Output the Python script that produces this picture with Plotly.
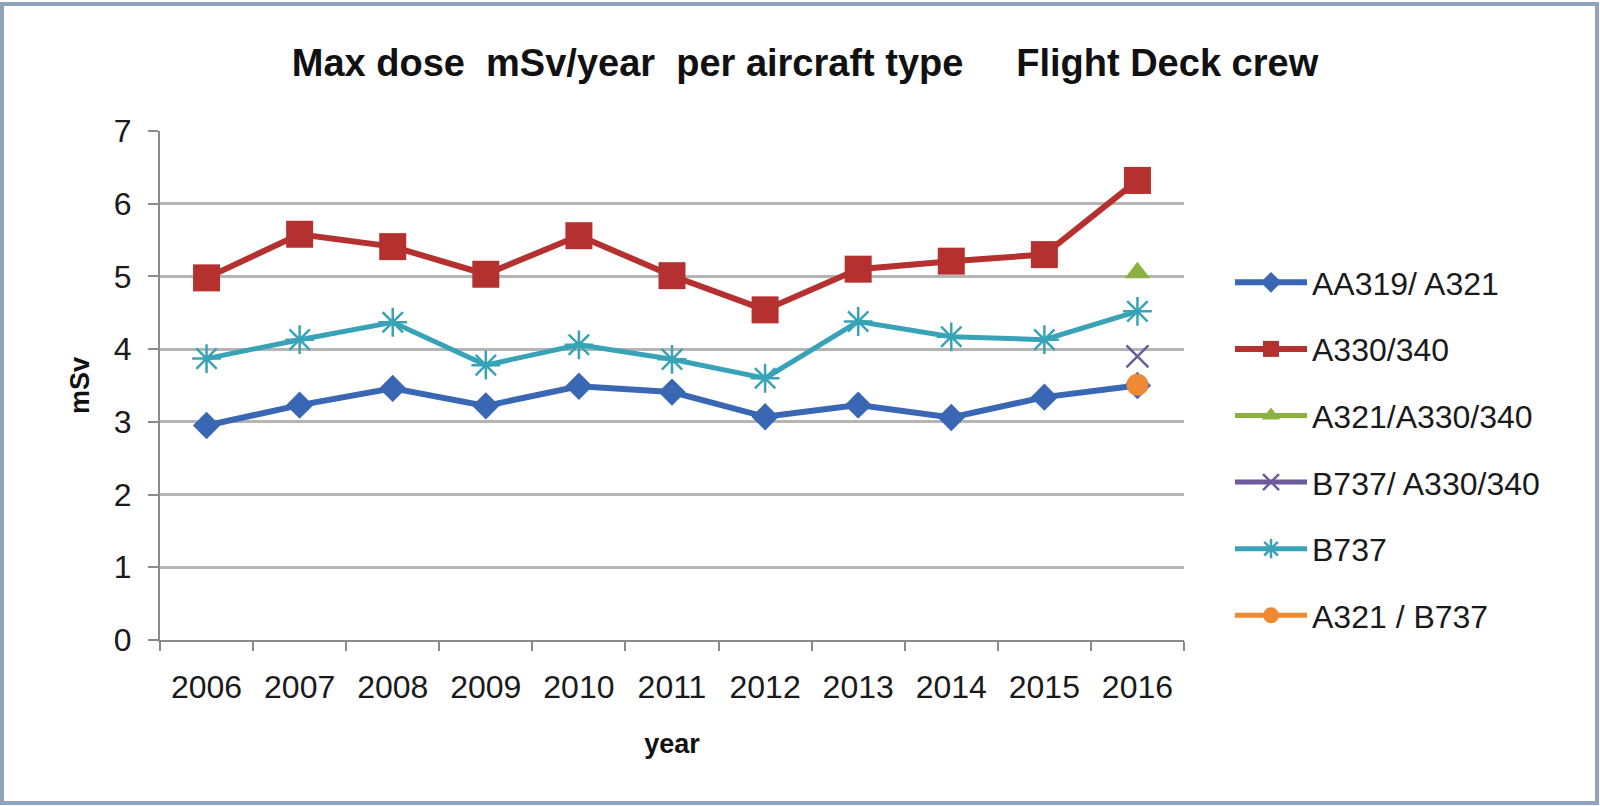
import plotly.graph_objects as go

# ---- data ----
years = ["2006", "2007", "2008", "2009", "2010", "2011", "2012", "2013", "2014", "2015", "2016"]
aa319_a321 = [2.95, 3.23, 3.46, 3.22, 3.49, 3.41, 3.07, 3.23, 3.06, 3.34, 3.50]
a330_340 = [4.98, 5.58, 5.41, 5.03, 5.56, 5.01, 4.54, 5.10, 5.21, 5.30, 6.32]
a321_a330_340 = [None, None, None, None, None, None, None, None, None, None, 5.05]
b737_a330_340 = [None, None, None, None, None, None, None, None, None, None, 3.90]
b737 = [3.87, 4.13, 4.37, 3.78, 4.06, 3.86, 3.60, 4.38, 4.17, 4.13, 4.52]
a321_b737 = [None, None, None, None, None, None, None, None, None, None, 3.51]

series_names = ["AA319/ A321", "A330/340", "A321/A330/340", "B737/ A330/340", "B737", "A321 / B737"]
series_values = [aa319_a321, a330_340, a321_a330_340, b737_a330_340, b737, a321_b737]
colors = ["#3A67B4", "#B5312F", "#8DB043", "#6B5A9C", "#38A3B7", "#EF8A34"]
symbols = ["diamond", "square", "triangle-up", "x-thin-open", "asterisk-open", "circle"]
msizes = [21, 27, 22, 22, 24, 22]
lwidths = [6, 6, 5, 5, 5, 5]

W, H = 1600, 806
L, R, T, B = 160, 1184, 131, 640

fig = go.Figure()
for i, (name, vals) in enumerate(zip(series_names, series_values)):
    sym = symbols[i]
    marker = dict(symbol=sym, size=msizes[i], color=colors[i])
    if sym.endswith("open"):
        marker["line"] = dict(color=colors[i], width=2.5)
    fig.add_trace(go.Scatter(
        x=years, y=vals, name=name, mode="lines+markers",
        line=dict(color=colors[i], width=lwidths[i]),
        marker=marker, legendgroup=f"g{i}",
    ))

font_main = "Liberation Sans, Arial, sans-serif"

def px2x(px):
    return (px - L) / (R - L)

def px2y(py):
    return (B - py) / (B - T)

# frame around the whole chart
fig.add_shape(type="rect", xref="paper", yref="paper",
              x0=px2x(2), x1=px2x(1597), y0=px2y(803), y1=px2y(4),
              line=dict(color="#8FA3BC", width=4), fillcolor="rgba(0,0,0,0)", layer="below")

fig.update_layout(
    width=W, height=H,
    margin=dict(l=L, r=W - R, t=T, b=H - B),
    paper_bgcolor="white", plot_bgcolor="white",
    font=dict(family=font_main, size=32, color="#1a1a1a"),
    title=dict(
        text="Max dose\u00a0\u00a0mSv/year\u00a0\u00a0per aircraft type\u00a0\u00a0\u00a0\u00a0\u00a0Flight Deck crew",
        x=805 / W, xref="container", xanchor="center",
        y=1 - 63 / H, yref="container", yanchor="middle",
        font=dict(family="Liberation Sans Narrow, Liberation Sans, Arial, sans-serif", size=38,
                  color="#111111", weight="bold"),
    ),
    legend=dict(
        x=px2x(1230), xanchor="left", y=px2y(255), yanchor="top",
        font=dict(family=font_main, size=32, color="#1a1a1a"),
        tracegroupgap=22, itemwidth=72, bgcolor="rgba(0,0,0,0)",
    ),
    showlegend=True,
)

fig.update_xaxes(
    type="category", categoryorder="array", categoryarray=years,
    range=[-0.5, len(years) - 0.5],
    showline=True, linecolor="#8a8a8a", linewidth=2,
    ticks="outside", tickson="boundaries", ticklen=9, tickcolor="#8a8a8a", tickwidth=2,
    ticklabelstandoff=18,
    showgrid=False, zeroline=False,
    title=dict(text="year", font=dict(size=27, weight="bold", color="#111111"), standoff=30),
)
fig.update_yaxes(
    range=[0, 7], dtick=1, tick0=0,
    showline=True, linecolor="#8a8a8a", linewidth=2,
    ticks="outside", ticklen=10, tickcolor="#8a8a8a", tickwidth=2,
    ticklabelstandoff=10,
    showgrid=True, gridcolor="#b5b5b5", gridwidth=3, zeroline=False,
    title=dict(text="mSv", font=dict(size=27, weight="bold", color="#111111"), standoff=16),
)

fig.write_html("out.html")
